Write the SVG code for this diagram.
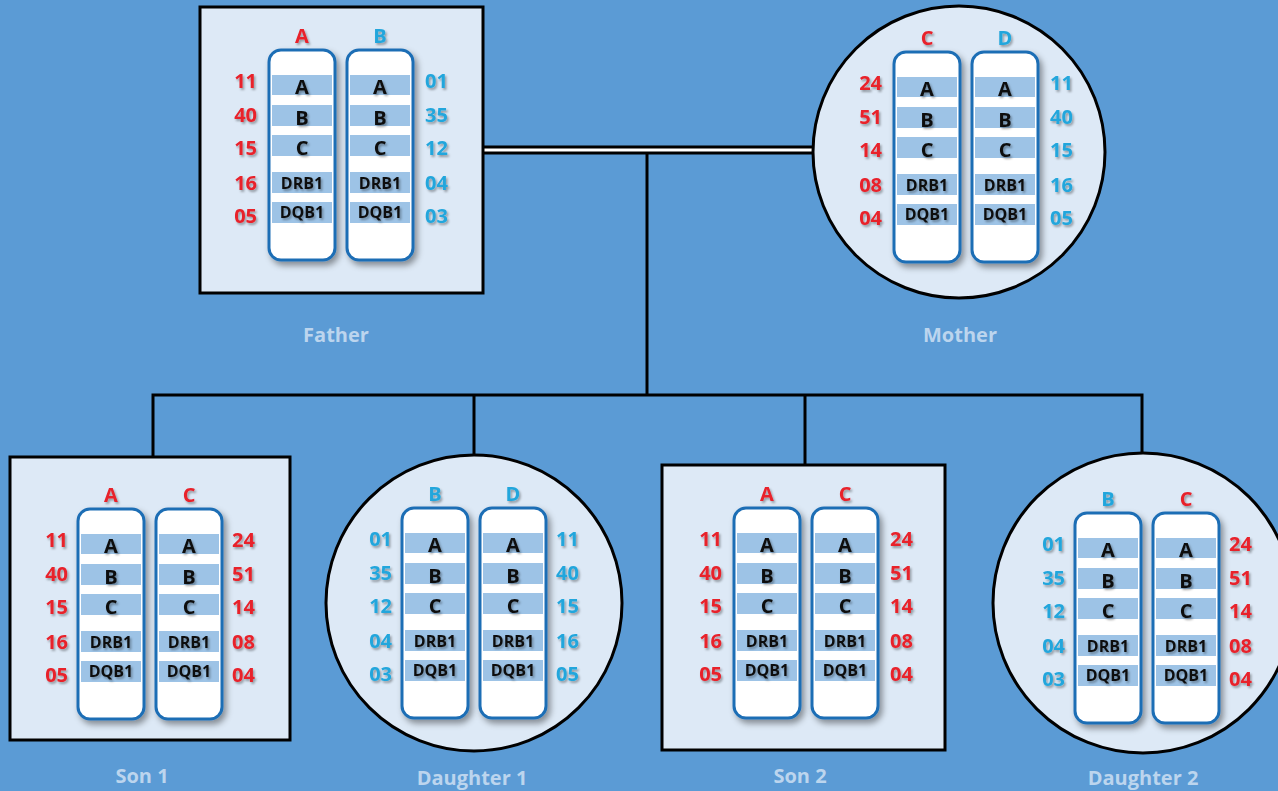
<svg xmlns="http://www.w3.org/2000/svg" xmlns:xlink="http://www.w3.org/1999/xlink" width="1278" height="791" viewBox="0 0 1278 791">
<style>
.node{fill:#DDE9F6;stroke:#000;stroke-width:3}
.chrom{fill:#fff;stroke:#1F6EB5;stroke-width:3}
.band{fill:#9DC3E6}
.bl{font-family:"Open Sans","Liberation Sans",sans-serif;font-weight:700;font-size:20px;fill:#111;text-anchor:middle}
.bs{font-size:16px}
.num{font-family:"Open Sans","Liberation Sans",sans-serif;font-weight:700;font-size:20px}
.l{text-anchor:end}
.r{text-anchor:start}
.h{text-anchor:middle}
.red{fill:#E8202A}
.cy{fill:#22A6DC}
.lab{font-family:"Open Sans","Liberation Sans",sans-serif;font-weight:700;font-size:20px;fill:#BCD5EE;text-anchor:middle}
.ln{fill:none;stroke:#000;stroke-width:3}
</style>
<defs>
<filter id="sh" x="-30%" y="-10%" width="160%" height="130%">
<feDropShadow dx="3" dy="4" stdDeviation="3" flood-color="#000" flood-opacity="0.4"/>
</filter>
<filter id="ts" x="-30%" y="-30%" width="160%" height="160%">
<feDropShadow dx="1.5" dy="2" stdDeviation="1.3" flood-color="#000" flood-opacity="0.35"/>
</filter>
<g id="chr">
<rect class="chrom" x="0" y="0" width="66" height="210" rx="12" filter="url(#sh)"/>
<rect class="band" x="3" y="25" width="60" height="20"/>
<rect class="band" x="3" y="55" width="60" height="21"/>
<rect class="band" x="3" y="85" width="60" height="21"/>
<rect class="band" x="3" y="122" width="60" height="21"/>
<rect class="band" x="3" y="152" width="60" height="21"/>
<g filter="url(#ts)">
<text class="bl" x="33" y="44">A</text>
<text class="bl" x="33" y="75">B</text>
<text class="bl" x="33" y="105">C</text>
<text class="bl bs" x="33" y="139">DRB1</text>
<text class="bl bs" x="33" y="168">DQB1</text>
</g>
</g>
<g id="pair">
<use xlink:href="#chr"/>
<use xlink:href="#chr" x="78"/>
</g>
</defs>
<rect x="0" y="0" width="1278" height="791" fill="#5B9BD5"/>

<g id="connectors">
<line x1="483" y1="150" x2="812" y2="150" stroke="#000" stroke-width="9"/>
<line x1="483" y1="150" x2="812" y2="150" stroke="#fff" stroke-width="3"/>
<line class="ln" x1="647" y1="154" x2="647" y2="395"/>
<polyline class="ln" points="153,457 153,395 1142,395 1142,454"/>
<line class="ln" x1="474" y1="395" x2="474" y2="455"/>
<line class="ln" x1="805" y1="395" x2="805" y2="465"/>
</g>

<g id="father">
<rect class="node" x="200" y="7" width="283" height="286"/>
<g transform="translate(269,50)">
<use xlink:href="#pair"/>
<g class="num" filter="url(#ts)">
<text class="h red" x="33" y="-7">A</text><text class="h cy" x="111" y="-7">B</text>
<text class="l red" x="-12" y="38">11</text><text class="l red" x="-12" y="72">40</text><text class="l red" x="-12" y="105">15</text><text class="l red" x="-12" y="140">16</text><text class="l red" x="-12" y="173">05</text>
<text class="r cy" x="156" y="38">01</text><text class="r cy" x="156" y="72">35</text><text class="r cy" x="156" y="105">12</text><text class="r cy" x="156" y="140">04</text><text class="r cy" x="156" y="173">03</text>
</g>
</g>
<text class="lab" x="336" y="342">Father</text>
</g>

<g id="mother">
<circle class="node" cx="959" cy="152" r="146"/>
<g transform="translate(894,52)">
<use xlink:href="#pair"/>
<g class="num" filter="url(#ts)">
<text class="h red" x="33" y="-7">C</text><text class="h cy" x="111" y="-7">D</text>
<text class="l red" x="-12" y="38">24</text><text class="l red" x="-12" y="72">51</text><text class="l red" x="-12" y="105">14</text><text class="l red" x="-12" y="140">08</text><text class="l red" x="-12" y="173">04</text>
<text class="r cy" x="156" y="38">11</text><text class="r cy" x="156" y="72">40</text><text class="r cy" x="156" y="105">15</text><text class="r cy" x="156" y="140">16</text><text class="r cy" x="156" y="173">05</text>
</g>
</g>
<text class="lab" x="960" y="342">Mother</text>
</g>

<g id="son1">
<rect class="node" x="10" y="457" width="280" height="283"/>
<g transform="translate(78,509)">
<use xlink:href="#pair"/>
<g class="num" filter="url(#ts)">
<text class="h red" x="33" y="-7">A</text><text class="h red" x="111" y="-7">C</text>
<text class="l red" x="-10" y="38">11</text><text class="l red" x="-10" y="72">40</text><text class="l red" x="-10" y="105">15</text><text class="l red" x="-10" y="140">16</text><text class="l red" x="-10" y="173">05</text>
<text class="r red" x="154" y="38">24</text><text class="r red" x="154" y="72">51</text><text class="r red" x="154" y="105">14</text><text class="r red" x="154" y="140">08</text><text class="r red" x="154" y="173">04</text>
</g>
</g>
<text class="lab" x="142" y="783">Son 1</text>
</g>

<g id="daughter1">
<circle class="node" cx="474" cy="603" r="148"/>
<g transform="translate(402,508)">
<use xlink:href="#pair"/>
<g class="num" filter="url(#ts)">
<text class="h cy" x="33" y="-7">B</text><text class="h cy" x="111" y="-7">D</text>
<text class="l cy" x="-10" y="38">01</text><text class="l cy" x="-10" y="72">35</text><text class="l cy" x="-10" y="105">12</text><text class="l cy" x="-10" y="140">04</text><text class="l cy" x="-10" y="173">03</text>
<text class="r cy" x="154" y="38">11</text><text class="r cy" x="154" y="72">40</text><text class="r cy" x="154" y="105">15</text><text class="r cy" x="154" y="140">16</text><text class="r cy" x="154" y="173">05</text>
</g>
</g>
<text class="lab" x="472" y="785">Daughter 1</text>
</g>

<g id="son2">
<rect class="node" x="662" y="465" width="283" height="285"/>
<g transform="translate(734,508)">
<use xlink:href="#pair"/>
<g class="num" filter="url(#ts)">
<text class="h red" x="33" y="-7">A</text><text class="h red" x="111" y="-7">C</text>
<text class="l red" x="-12" y="38">11</text><text class="l red" x="-12" y="72">40</text><text class="l red" x="-12" y="105">15</text><text class="l red" x="-12" y="140">16</text><text class="l red" x="-12" y="173">05</text>
<text class="r red" x="156" y="38">24</text><text class="r red" x="156" y="72">51</text><text class="r red" x="156" y="105">14</text><text class="r red" x="156" y="140">08</text><text class="r red" x="156" y="173">04</text>
</g>
</g>
<text class="lab" x="800" y="783">Son 2</text>
</g>

<g id="daughter2">
<circle class="node" cx="1143" cy="603" r="150"/>
<g transform="translate(1075,513)">
<use xlink:href="#pair"/>
<g class="num" filter="url(#ts)">
<text class="h cy" x="33" y="-7">B</text><text class="h red" x="111" y="-7">C</text>
<text class="l cy" x="-10" y="38">01</text><text class="l cy" x="-10" y="72">35</text><text class="l cy" x="-10" y="105">12</text><text class="l cy" x="-10" y="140">04</text><text class="l cy" x="-10" y="173">03</text>
<text class="r red" x="154" y="38">24</text><text class="r red" x="154" y="72">51</text><text class="r red" x="154" y="105">14</text><text class="r red" x="154" y="140">08</text><text class="r red" x="154" y="173">04</text>
</g>
</g>
<text class="lab" x="1143" y="785">Daughter 2</text>
</g>
</svg>
